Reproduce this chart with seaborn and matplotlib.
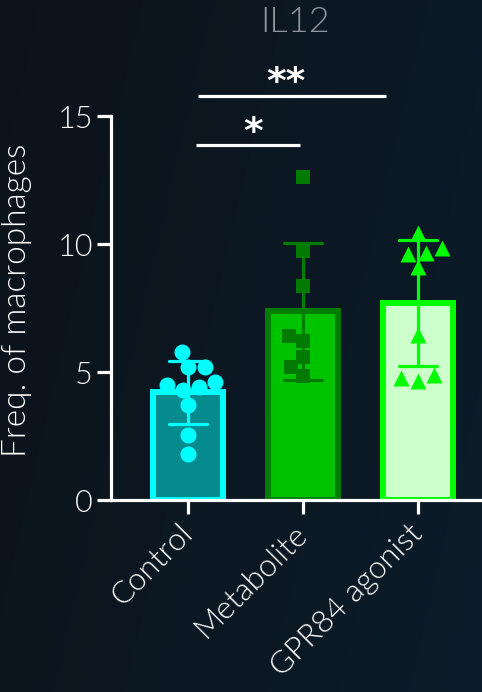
import numpy as np
import pandas as pd
import matplotlib
matplotlib.use("Agg")
import matplotlib.pyplot as plt
import seaborn as sns

# ---- data ----
categories = ["Control", "Metabolite", "GPR84 agonist"]
control_vals = [5.79, 5.21, 5.21, 4.62, 4.43, 4.49, 4.30, 3.71, 2.54, 1.80]
metabolite_vals = [12.6, 9.74, 8.36, 6.22, 6.42, 5.57, 5.21, 4.84]
gpr84_vals = [10.44, 9.64, 9.83, 9.60, 9.09, 6.45, 4.88, 4.66, 4.75]
yticks = [0, 5, 10, 15]
title = "IL12"
ylabel = "Freq. of macrophages"
sig_labels = ["*", "**"]
sig_y = [13.85, 15.8]
sig_x = [(0.07, 0.97), (0.09, 1.72)]

face_colors = ["#058b8d", "#00c300", "#ccffcc"]
edge_colors = ["#00ffff", "#007d00", "#00ff00"]
point_colors = ["#00ffff", "#007a00", "#00ff00"]
markers = ["o", "s", "^"]

df = pd.DataFrame({
    "group": (["Control"] * len(control_vals) + ["Metabolite"] * len(metabolite_vals)
              + ["GPR84 agonist"] * len(gpr84_vals)),
    "value": control_vals + metabolite_vals + gpr84_vals,
})

sns.set_style("ticks")
plt.rcParams["font.family"] = ["Lato", "DejaVu Sans"]
FW = 300

W, H = 482, 692
fig = plt.figure(figsize=(W / 100, H / 100), dpi=100)

# background gradient
bg = fig.add_axes([0, 0, 1, 1], zorder=-10)
gx = np.linspace(0, 1, 200)[None, :]
gy = np.linspace(0, 1, 200)[:, None]
t = np.clip(0.75 * gx + 0.25 * gy, 0, 1)
c0 = np.array([0x0c, 0x13, 0x1a]) / 255
c1 = np.array([0x0b, 0x1c, 0x2a]) / 255
img = c0[None, None, :] * (1 - t[..., None]) + c1[None, None, :] * t[..., None]
bg.imshow(img, aspect="auto", extent=[0, 1, 0, 1])
bg.axis("off")

ax = fig.add_axes([111 / W, 1 - 500 / H, 1 - 111 / W, (500 - 116) / H])
ax.set_facecolor("none")

sns.barplot(data=df, x="group", y="value", hue="group", order=categories,
            hue_order=categories, palette=face_colors, saturation=1,
            errorbar="sd", capsize=0.33, width=0.61, legend=False, ax=ax,
            err_kws={"linewidth": 2.3})

for p, ec in zip(ax.patches, edge_colors):
    p.set_edgecolor(ec)
    p.set_linewidth(4.3)
for ln, ec in zip(ax.lines, edge_colors):
    ln.set_color(ec)
    ln.set_zorder(2.6)

sizes = [11.5, 10.5, 11.5]
for cat, col, mk, sz in zip(categories, point_colors, markers, sizes):
    sub = df[df["group"] == cat]
    sns.swarmplot(data=sub, x="group", y="value", order=categories, color=col,
                  marker=mk, size=sz, linewidth=0, ax=ax, zorder=3)

ax.set_xlim(-0.67, 2.557)
ax.set_ylim(0, 15)
ax.set_yticks(yticks)
ax.set_yticklabels([str(v) for v in yticks])
sns.despine(ax=ax)
for s in ["left", "bottom"]:
    ax.spines[s].set_color("white")
    ax.spines[s].set_linewidth(2.3)
ax.tick_params(axis="both", colors="white", width=2.3, length=10)
ax.tick_params(axis="y", labelsize=22, pad=3)
ax.tick_params(axis="x", labelsize=22.5, pad=11)
for lab in ax.get_xticklabels():
    lab.set_rotation(45)
    lab.set_ha("right")
    lab.set_va("center")
    lab.set_rotation_mode("anchor")
    lab.set_fontweight(FW)
for lab in ax.get_yticklabels():
    lab.set_fontweight(FW)
ax.set_xlabel("")
ax.set_ylabel(ylabel, color="white", fontsize=24, fontweight=FW)
ax.yaxis.set_label_coords(-(111 - 32) / (W - 111), 0.52)

# significance
for lbl, yv, (x0, x1) in zip(sig_labels, sig_y, sig_x):
    ax.plot([x0, x1], [yv, yv], color="white", lw=2.3, clip_on=False,
            solid_capstyle="butt")
    ax.text((x0 + x1) / 2 + (0.05 if lbl == "*" else -0.05), yv + 0.5, lbl,
            color="white", fontsize=27, fontweight="bold", ha="center",
            va="center", family="DejaVu Sans")

fig.text(295 / W, 1 - 22 / H, title, color="#8d949b", fontsize=26,
         fontweight=FW, ha="center", va="center")

fig.savefig("out.png", dpi=100, facecolor=fig.get_facecolor())
